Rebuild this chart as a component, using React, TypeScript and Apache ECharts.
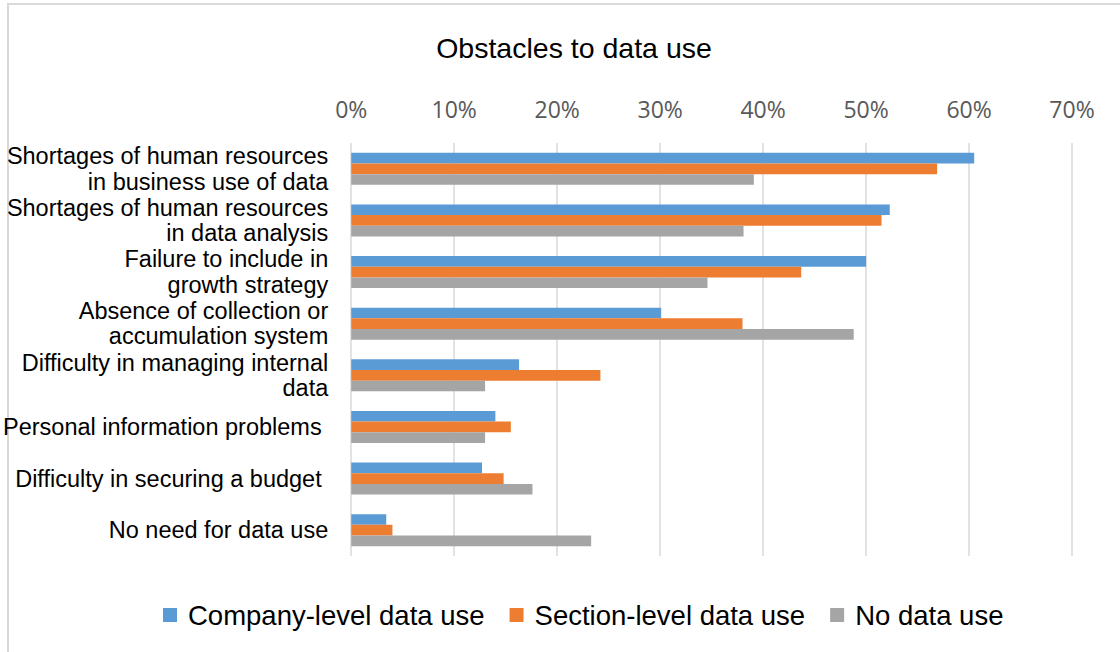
import React, { useEffect, useRef } from "react";
import * as echarts from "echarts";

const categories = [
  "Shortages of human resources\nin business use of data",
  "Shortages of human resources\nin data analysis",
  "Failure to include in\ngrowth strategy",
  "Absence of collection or\naccumulation system",
  "Difficulty in managing internal\ndata",
  "Personal information problems ",
  "Difficulty in securing a budget ",
  "No need for data use",
];
const companyLevel = [0.605, 0.523, 0.5, 0.301, 0.163, 0.14, 0.127, 0.034];
const sectionLevel = [0.569, 0.515, 0.437, 0.38, 0.242, 0.155, 0.148, 0.04];
const noDataUse = [0.391, 0.381, 0.346, 0.488, 0.13, 0.13, 0.176, 0.233];
const seriesNames = ["Company-level data use", "Section-level data use", "No data use"];
const colors = ["#5B9BD5", "#ED7D31", "#A5A5A5"];

export default function App() {
  const ref = useRef<HTMLDivElement>(null);
  useEffect(() => {
    const chart = echarts.init(ref.current!, null, { renderer: "svg" });
    const font = "'Liberation Sans', Arial, sans-serif";
    const mk = (name: string, data: number[], color: string) => ({
      name,
      type: "bar",
      data,
      itemStyle: { color },
      barGap: "0%",
      barCategoryGap: "38%",
    });
    chart.setOption({
      animation: false,
      backgroundColor: "#ffffff",
      title: {
        text: "Obstacles to data use",
        left: 569,
        top: 28,
        textAlign: "center",
        textStyle: { fontFamily: font, fontSize: 28.5, fontWeight: "normal", color: "#000" },
      },
      graphic: [
        {
          type: "rect",
          shape: { x: 8, y: 4, width: 1200, height: 1000 },
          style: { fill: "none", stroke: "#d9d9d9", lineWidth: 2 },
          silent: true,
        },
      ],
      legend: {
        data: seriesNames,
        top: 596,
        left: 158,
        itemWidth: 14,
        itemHeight: 14,
        itemGap: 25,
        icon: "rect",
        textStyle: { fontFamily: font, fontSize: 27.5, color: "#000", padding: [0, 0, 0, 6] },
      },
      grid: { left: 350, right: 48, top: 143, bottom: 96, containLabel: false },
      xAxis: {
        type: "value",
        position: "top",
        min: 0,
        max: 0.7,
        interval: 0.1,
        axisLine: { show: false },
        axisTick: { show: false },
        axisLabel: {
          formatter: (v: number) => Math.round(v * 100) + "%",
          fontFamily: "'Open Sans', sans-serif",
          fontSize: 23,
          color: "#595959",
          margin: 23,
        },
        splitLine: { lineStyle: { color: "#d9d9d9", width: 1.5 } },
      },
      yAxis: {
        type: "category",
        inverse: true,
        data: categories,
        axisLine: { show: false },
        axisTick: { show: false },
        axisLabel: {
          interval: 0,
          fontFamily: font,
          fontSize: 23.5,
          color: "#000",
          lineHeight: 25.5,
          margin: 23,
        },
      },
      series: [
        mk(seriesNames[0], companyLevel, colors[0]),
        mk(seriesNames[1], sectionLevel, colors[1]),
        mk(seriesNames[2], noDataUse, colors[2]),
      ],
    });
    return () => chart.dispose();
  }, []);
  return (
    <div
      ref={ref}
      style={{ position: "fixed", left: 0, top: 0, width: 1120, height: 652 }}
    />
  );
}
